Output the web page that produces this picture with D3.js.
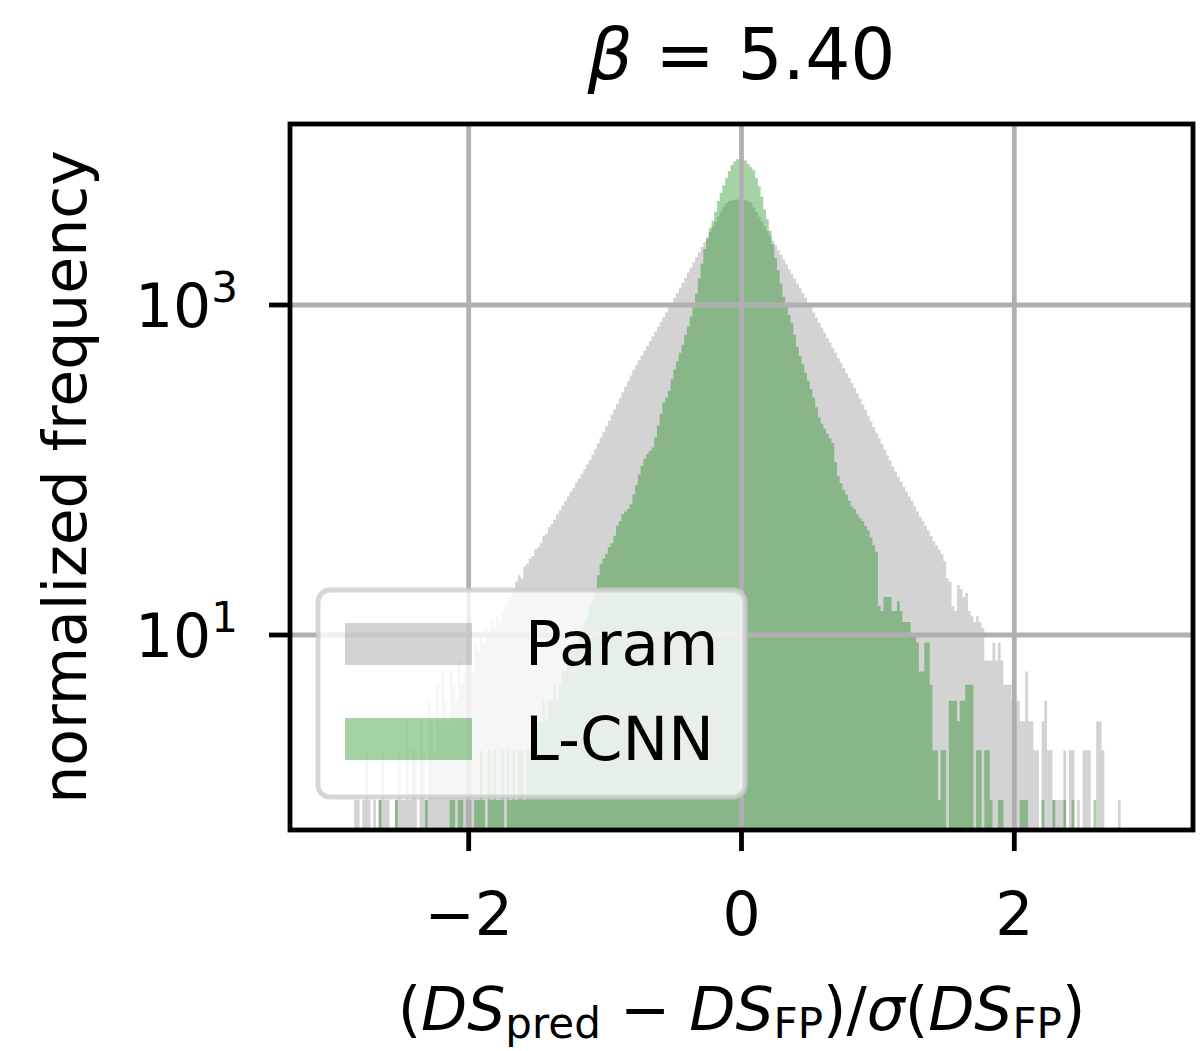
<!DOCTYPE html>
<html>
<head>
<meta charset="utf-8">
<script src="https://cdn.jsdelivr.net/npm/d3@7"></script>
<style>
  html, body { margin: 0; padding: 0; background: #fff; }
  svg { display: block; font-family: "DejaVu Sans", sans-serif; }
</style>
</head>
<body>
<div id="chartContainer"></div>
<script>
// Histogram bins (width 0.02).
const binWidth = 0.02;

const paramStart = -2.84;
const paramValues = [
    1, 1, 0, 1, 2, 1, 0, 1, 0, 1,
    2, 1, 1, 0, 0, 1, 2, 1, 1, 3,
    1, 2, 2, 0, 3, 2, 1, 4, 3, 2,
    5, 3, 6, 4, 3, 6, 5, 4, 7, 5,
    6, 8, 7, 6, 9, 8, 10, 9, 11, 10,
    12, 11, 13, 12, 14, 15, 16, 17, 19,
    21, 23, 22, 26, 27, 29, 30, 33, 34, 36, 40, 41, 45,
    47, 50, 54, 57, 61, 65, 69, 74, 78, 84, 89, 95, 101, 108, 115,
    124, 134, 145, 157, 170, 184, 199, 216, 233, 252, 273, 296, 320, 346, 374, 405,
    433, 462, 494, 528, 565, 604, 646, 690, 738, 789, 843, 902, 964, 1030,
    1102, 1183, 1271, 1364, 1465, 1573, 1688, 1812, 1946, 2089, 2244, 2409, 2585, 2775, 2980, 3199, 3435, 3688, 3954,
    4150, 4266, 4315, 4345, 4365, 4365, 4345, 4315, 4266,
    4178, 3917, 3664, 3428, 3206, 3000, 2806, 2624, 2459, 2301, 2153, 2014, 1884, 1762, 1648, 1542, 1442, 1349, 1262, 1183, 1107,
    1035, 964, 899, 838, 782, 728, 679, 632, 590, 550, 513, 478, 446, 415, 386, 361, 336, 313, 292,
    270, 249, 231, 213, 197, 182, 168, 156, 144, 133, 123, 114, 105,
    98, 91, 85, 79, 74, 69, 65, 60, 56, 52, 49, 46, 43, 40,
    37, 35, 33, 31,
    28, 22, 21, 15, 14, 20, 19, 17, 18, 14, 13, 12, 13, 12, 11,
    7, 7, 7, 9, 7, 9, 7, 5, 5, 5,
    4, 4, 4, 3, 3, 6, 3, 3, 2, 2,
    0, 3, 4, 2, 2, 1, 1, 1, 1, 2,
    0, 2, 2, 0, 1, 0, 2, 2, 2, 0,
    0, 3, 3, 2, 0, 0, 0, 0, 0, 1
];

const lcnnStart = -2.66;
const lcnnValues = [
    1, 0, 0, 0, 0, 0, 1, 0, 0, 0,
    0, 0, 0, 0, 0, 0, 0, 1, 0, 0,
    0, 0, 0, 0, 0, 0, 1, 1, 0, 1,
    1, 0, 1, 1, 0, 1, 1, 2, 1, 0,
    2, 1, 2, 1, 1, 2, 0, 2, 1, 2,
    1, 2, 2, 1, 2, 2, 3, 2, 3, 3,
    4, 3, 4, 4, 5, 4, 5, 6, 6, 7,
    8, 8, 9, 10, 11, 12, 13, 15, 16, 18,
    23, 27, 29, 31, 34, 36, 40, 46, 49, 54,
    56, 58, 62, 71, 81, 94, 106, 117, 125, 131,
    137, 158, 186, 219, 257, 275, 302, 355, 407, 457,
    513, 575, 661, 741, 851, 966, 1175, 1445, 1778, 2188,
    2512, 2917, 3236, 3673, 4266, 4786, 5309, 5888, 6457, 7047,
    7413, 7638, 7674, 7638, 7499, 7161, 6855, 6561, 5888, 5248,
    4529, 3802, 3311, 2818, 2344, 1928, 1622, 1349, 1122, 977,
    871, 776, 661, 556, 490, 437, 389, 347, 309, 275,
    240, 209, 191, 178, 166, 155, 146, 112, 92, 83,
    76, 71, 65, 60, 58, 54, 51, 49, 46, 43,
    39, 35, 32,
    15, 14, 17, 17, 17, 14, 14, 16, 14, 12,
    12, 12, 10, 10, 9, 6, 6, 9, 9, 5,
    2, 2, 1, 2, 2, 0, 4, 4, 4, 3,
    4, 4, 5, 5, 5, 0, 2, 2, 0, 2,
    2, 1, 0, 0, 1, 1, 0, 0, 0, 0,
    0, 0, 1, 1, 1, 0, 0, 0, 0, 0,
    1, 0, 0, 0, 1, 0, 0, 0, 1, 0,
    0, 1, 0, 0, 0, 0, 0, 0, 0, 1
];

const seriesNames = ["Param", "L-CNN"];
const seriesColors = ["#808080", "#008000"];
const xTicks = [-2, 0, 2];
const yTickExponents = [1, 3];

function createChart() {
    // Specify the chart’s dimensions.
    const width = 1204;
    const height = 1051;
    const left = 290, right = 1193, top = 124, bottom = 830;
    const fontSize = 60;

    const x = d3.scaleLinear().domain([-3.31, 3.31]).range([left, right]);
    const y = d3.scaleLog().domain([0.658, 12500]).range([bottom, top]);

    const svg = d3.create("svg")
        .attr("width", width)
        .attr("height", height)
        .attr("viewBox", `0 0 ${width} ${height}`);

    svg.append("rect").attr("width", width).attr("height", height).attr("fill", "#fff");

    svg.append("clipPath").attr("id", "plot-clip")
        .append("rect")
        .attr("x", left).attr("y", top)
        .attr("width", right - left).attr("height", bottom - top);

    // Turn a list of bin values into step points (last point closes the final bin).
    const toBins = (start, values) => {
        const pts = values.map((v, i) => ({ x0: start + i * binWidth, v }));
        pts.push({ x0: start + values.length * binWidth, v: 0 });
        return pts;
    };

    const area = d3.area()
        .x(d => x(d.x0))
        .y0(bottom)
        .y1(d => d.v > 0 ? y(d.v) : bottom)
        .curve(d3.curveStepAfter);

    const bars = svg.append("g").attr("clip-path", "url(#plot-clip)");
    [toBins(paramStart, paramValues), toBins(lcnnStart, lcnnValues)].forEach((bins, i) => {
        bars.append("path")
            .attr("d", area(bins))
            .attr("fill", seriesColors[i])
            .attr("fill-opacity", 0.35);
    });

    // Grid lines (drawn above the bars, as in the original).
    const grid = svg.append("g")
        .attr("stroke", "#b0b0b0")
        .attr("stroke-width", 4.8);
    grid.selectAll("line.vx")
        .data(xTicks)
        .join("line")
        .attr("x1", d => x(d)).attr("x2", d => x(d))
        .attr("y1", top).attr("y2", bottom);
    grid.selectAll("line.hy")
        .data(yTickExponents)
        .join("line")
        .attr("class", "hy")
        .attr("x1", left).attr("x2", right)
        .attr("y1", d => y(Math.pow(10, d))).attr("y2", d => y(Math.pow(10, d)));

    // Legend.
    const legend = svg.append("g");
    legend.append("rect")
        .attr("x", 318).attr("y", 590)
        .attr("width", 427).attr("height", 207)
        .attr("rx", 12)
        .attr("fill", "#fff").attr("fill-opacity", 0.8)
        .attr("stroke", "#cccccc").attr("stroke-opacity", 0.8)
        .attr("stroke-width", 5);
    const item = legend.selectAll("g.item")
        .data(seriesNames)
        .join("g")
        .attr("transform", (d, i) => `translate(0,${i * 95})`);
    item.append("rect")
        .attr("x", 345).attr("y", 623)
        .attr("width", 127).attr("height", 42)
        .attr("fill", (d, i) => seriesColors[i])
        .attr("fill-opacity", 0.35);
    item.append("text")
        .attr("x", 525).attr("y", 665)
        .attr("font-size", 61)
        .text(d => d);

    // Frame.
    svg.append("rect")
        .attr("x", left).attr("y", top)
        .attr("width", right - left).attr("height", bottom - top)
        .attr("fill", "none")
        .attr("stroke", "#000")
        .attr("stroke-width", 4.8);

    // X axis ticks and labels.
    const xAxis = svg.append("g");
    xAxis.selectAll("line")
        .data(xTicks)
        .join("line")
        .attr("x1", d => x(d)).attr("x2", d => x(d))
        .attr("y1", bottom).attr("y2", bottom + 21)
        .attr("stroke", "#000").attr("stroke-width", 4.8);
    xAxis.selectAll("text")
        .data(xTicks)
        .join("text")
        .attr("x", d => x(d)).attr("y", 935)
        .attr("text-anchor", "middle")
        .attr("font-size", fontSize)
        .text(d => d < 0 ? "\u2212" + Math.abs(d) : d);

    // Y axis ticks and labels (10^n).
    const yAxis = svg.append("g");
    yAxis.selectAll("line")
        .data(yTickExponents)
        .join("line")
        .attr("x1", left - 21).attr("x2", left)
        .attr("y1", d => y(Math.pow(10, d))).attr("y2", d => y(Math.pow(10, d)))
        .attr("stroke", "#000").attr("stroke-width", 4.8);
    const yLabel = yAxis.selectAll("text")
        .data(yTickExponents)
        .join("text")
        .attr("x", 238).attr("y", d => y(Math.pow(10, d)) + 22)
        .attr("text-anchor", "end")
        .attr("font-size", fontSize);
    yLabel.append("tspan").text("10");
    yLabel.append("tspan").attr("font-size", 42).attr("dy", -25).text(d => d);

    // Axis titles.
    svg.append("text")
        .attr("transform", `translate(86,${(top + bottom) / 2}) rotate(-90)`)
        .attr("text-anchor", "middle")
        .attr("font-size", fontSize)
        .text("normalized frequency");

    const xl = svg.append("text")
        .attr("x", (left + right) / 2).attr("y", 1030)
        .attr("text-anchor", "middle")
        .attr("font-size", fontSize);
    const parts = [
        ["(", "n"], ["DS", "i"], ["pred", "s"], [" \u2212 ", "n"], ["DS", "i"], ["FP", "s"],
        [")/", "n"], ["\u03c3", "i"], ["(", "n"], ["DS", "i"], ["FP", "s"], [")", "n"]
    ];
    let shifted = false;
    parts.forEach(([t, kind]) => {
        const ts = xl.append("tspan").text(t);
        if (kind === "i") ts.attr("font-style", "italic");
        if (kind === "s") {
            ts.attr("font-size", 42).attr("dy", 8);
            shifted = true;
        } else if (shifted) {
            ts.attr("dy", -8);
            shifted = false;
        }
    });

    // Title.
    const title = svg.append("text")
        .attr("x", (left + right) / 2).attr("y", 79)
        .attr("text-anchor", "middle")
        .attr("font-size", 71);
    title.append("tspan").attr("font-style", "italic").text("\u03b2");
    title.append("tspan").text(" = 5.40");

    return svg.node();
}

document.getElementById("chartContainer").appendChild(createChart());
</script>
</body>
</html>
